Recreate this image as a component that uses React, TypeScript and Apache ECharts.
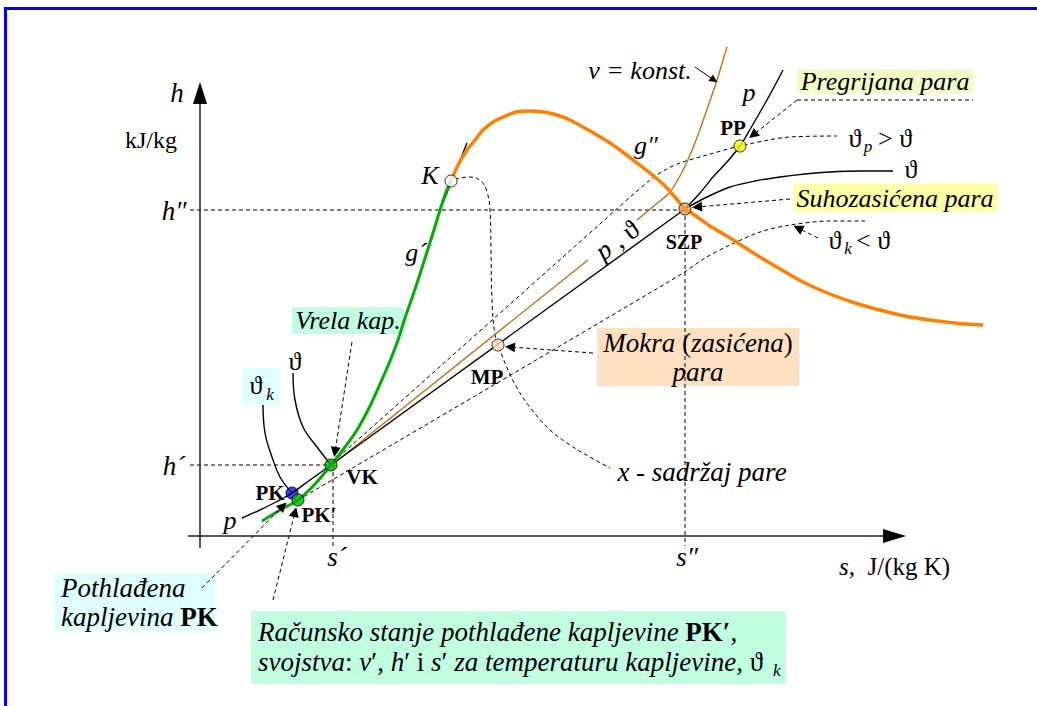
import React, { useEffect, useRef } from "react";
import * as echarts from "echarts";

// ---- Data (diagram units: s to the right, h measured downward on the inverted axis) ----
const gPrime = [[262,521],[280,510],[298,500],[315,484],[331,465],[345,447],[357,430],[369,408],[380,384],[390,361],[398,340],[405,318],[412,298],[419,277],[426,255],[433,233],[440,210],[446,192],[451,181]];
const gDouble = [[451,181],[458,165],[467,150],[475,140],[483,130],[493,122],[503,117],[516,112],[530,111],[544,112],[557,115],[570,120],[583,127],[597,135],[610,143],[624,153],[637,163],[650,173],[663,184],[674,196],[685,209],[693,214],[710,226],[730,238],[755,254],[780,269],[805,283],[830,294],[855,303],[880,310],[905,316],[930,320],[955,323],[983,325]];
const tangentK = [[440,210],[467,143]];
const wetIsobar = [[331,465],[685,209]];
const vConstLow = [[333,464],[588,260]];
const vConstHigh = [[637,220],[655,205],[670,192],[681,174],[690,155],[698,135],[705,115],[712,95],[718,77],[723,60],[727,47]];
const pLiquid = [[242,518],[260,510],[276,502],[292,493],[310,480],[331,465]];
const pSuper = [[685,209],[700,193],[713,177],[727,162],[740,146],[752,126],[763,107],[773,89],[783,70]];
const thetaSuper = [[685,209],[705,198],[730,187],[755,181],[780,177],[805,174],[830,172],[860,171],[893,171]];
const thetaLiquid = [[293,373],[295,400],[303,427],[317,447],[331,465]];
const thetaKLiquid = [[263,405],[265,433],[272,457],[280,477],[292,493]];
const xCurve = [[455,179],[470,177],[481,181],[487,192],[490,210],[491,250],[492,300],[495,335],[500,350],[508,370],[517,388],[532,410],[550,430],[567,443],[583,453],[610,468]];
const thetaPDashed = [[333,462],[600,224],[650,180],[665,170],[680,163],[707,155],[740,146],[790,137],[837,136]];
const thetaKDashed = [[298,500],[680,275],[705,258],[730,245],[760,232],[790,225],[830,221],[865,221]];
const hDoubleGuide = [[190,210],[685,210]];
const hPrimeGuide = [[190,465],[331,465]];
const sPrimeGuide = [[333,465],[333,546]];
const sDoubleGuide = [[685,209],[685,546]];
const pregrijanaUnderline = [[797,100],[973,100]];

const arrowsDashed = [
  [[352,342],[335,452]],
  [[593,353],[510,347]],
  [[797,100],[753,135]],
  [[790,199],[697,207]],
  [[818,238],[798,228]],
  [[202,588],[283,506]],
  [[273,600],[295,512]],
];
const arrowsSolid = [[[695,67],[714,80]]];

const points = [
  { name: "K", value: [451,181], color: "#ffffff" },
  { name: "SZP", value: [685,209], color: "#f8a050" },
  { name: "PP", value: [740,146], color: "#ffff00" },
  { name: "MP", value: [498,345], color: "#ffe0c0" },
  { name: "VK", value: [331,465], color: "#00b000" },
  { name: "PK", value: [292,493], color: "#1010e0" },
  { name: "PK'", value: [298,500], color: "#00b000" },
];

const FONT = "'Liberation Serif', 'Times New Roman', serif";

function lineSeries(data: number[][], color: string, width: number, opts: any = {}) {
  return {
    type: "line",
    data,
    symbol: "none",
    showSymbol: false,
    silent: true,
    smooth: opts.smooth ?? 0,
    z: opts.z ?? 3,
    lineStyle: { color, width, type: opts.type ?? "solid" },
  };
}

function t(x: number, y: number, text: string, o: any = {}) {
  return {
    type: "text",
    x,
    y,
    rotation: o.rotation ?? 0,
    z: 20,
    style: {
      text,
      fill: "#000",
      fontFamily: FONT,
      fontSize: o.size ?? 26,
      fontStyle: o.italic === false ? "normal" : "italic",
      fontWeight: o.bold ? "bold" : "normal",
      align: o.align ?? "center",
      verticalAlign: "middle",
      rich: o.rich,
    },
  };
}

function box(x: number, y: number, w: number, h: number, fill: string) {
  return { type: "rect", z: 0, shape: { x, y, width: w, height: h }, style: { fill } };
}

const richI = (size: number) => ({
  i: { fontFamily: FONT, fontSize: size, fontStyle: "italic" },
  n: { fontFamily: FONT, fontSize: size, fontStyle: "normal" },
  b: { fontFamily: FONT, fontSize: size, fontStyle: "normal", fontWeight: "bold" },
});

export default function App() {
  const ref = useRef<HTMLDivElement>(null);
  useEffect(() => {
    if (!ref.current) return;
    const chart = echarts.init(ref.current, undefined, { renderer: "svg" });
    const dash = [4, 3];
    const series: any[] = [
      lineSeries(hDoubleGuide, "#000", 1, { type: dash, z: 2 }),
      lineSeries(hPrimeGuide, "#000", 1, { type: dash, z: 2 }),
      lineSeries(sPrimeGuide, "#000", 1, { type: dash, z: 2 }),
      lineSeries(sDoubleGuide, "#000", 1, { type: dash, z: 2 }),
      lineSeries(xCurve, "#000", 1, { type: dash, z: 2, smooth: 0.4 }),
      lineSeries(thetaPDashed, "#000", 1, { type: dash, z: 2, smooth: 0.3 }),
      lineSeries(thetaKDashed, "#000", 1, { type: dash, z: 2, smooth: 0.3 }),
      lineSeries(pregrijanaUnderline, "#000", 1, { type: dash, z: 2 }),
      lineSeries(vConstLow, "#cc6600", 1.3),
      lineSeries(vConstHigh, "#cc6600", 1.3, { smooth: 0.3 }),
      lineSeries(wetIsobar, "#000", 1.4),
      lineSeries(tangentK, "#000", 1.4),
      lineSeries(pLiquid, "#000", 1.4, { smooth: 0.3 }),
      lineSeries(pSuper, "#000", 1.4, { smooth: 0.3 }),
      lineSeries(thetaSuper, "#000", 1.4, { smooth: 0.3 }),
      lineSeries(thetaLiquid, "#000", 1.4, { smooth: 0.4 }),
      lineSeries(thetaKLiquid, "#000", 1.4, { smooth: 0.4 }),
      lineSeries(gPrime, "#00b000", 3, { smooth: 0.3, z: 4 }),
      lineSeries(gDouble, "#ff8000", 3.5, { smooth: 0.3, z: 4 }),
      {
        type: "lines",
        coordinateSystem: "cartesian2d",
        silent: true,
        z: 5,
        symbol: ["none", "triangle"],
        symbolSize: 10,
        lineStyle: { color: "#000", width: 1, type: dash, opacity: 1, curveness: 0 },
        data: arrowsDashed.map((c) => ({ coords: c })),
      },
      {
        type: "lines",
        coordinateSystem: "cartesian2d",
        silent: true,
        z: 5,
        symbol: ["none", "triangle"],
        symbolSize: 8,
        lineStyle: { color: "#000", width: 1, opacity: 1, curveness: 0 },
        data: arrowsSolid.map((c) => ({ coords: c })),
      },
      {
        type: "scatter",
        silent: true,
        z: 6,
        symbolSize: 12,
        data: points.map((p) => ({
          name: p.name,
          value: p.value,
          itemStyle: { color: p.color, borderColor: "#000", borderWidth: 1 },
        })),
      },
      lineSeries([[286,497],[298,489]], "#000", 1.2, { z: 7 }),
    ];

    const graphic: any[] = [
      // frame
      box(4, 7, 1033, 3, "#0000ff"),
      box(4, 7, 3, 699, "#0000ff"),
      // label boxes
      box(242, 368, 38, 37, "#e0ffff"),
      box(292, 307, 111, 27, "#c0ffe0"),
      box(597, 328, 202, 58, "#ffe0c0"),
      box(797, 69, 176, 25, "#f2ffc4"),
      box(793, 184, 204, 28, "#ffffa8"),
      box(54, 573, 161, 58, "#e0ffff"),
      box(251, 611, 535, 73, "#c0ffe0"),
      // axes
      { type: "line", z: 8, shape: { x1: 200, y1: 548, x2: 200, y2: 100 }, style: { stroke: "#222", lineWidth: 1.5 } },
      { type: "line", z: 8, shape: { x1: 188, y1: 536, x2: 888, y2: 536 }, style: { stroke: "#222", lineWidth: 1.5 } },
      { type: "polygon", z: 8, shape: { points: [[200,82],[193,104],[207,104]] }, style: { fill: "#000" } },
      { type: "polygon", z: 8, shape: { points: [[906,536],[883,529],[883,543]] }, style: { fill: "#000" } },
      // axis labels
      t(177, 93, "h", { size: 27 }),
      t(151, 140, "kJ/kg", { size: 24, italic: false }),
      t(174, 211, "h″", { size: 27 }),
      t(174, 466, "h´", { size: 27 }),
      t(337, 557, "s´", { size: 27 }),
      t(687, 557, "s″", { size: 27 }),
      t(839, 566, "{i|s,}{n|  J/(kg K)}", { align: "left", rich: richI(25) }),
      // curve labels
      t(430, 175, "K", { size: 26 }),
      t(416, 252, "g´", { size: 26 }),
      t(646, 145, "g″", { size: 26 }),
      t(617, 240, "{i|p}{n| , ϑ}", { rotation: 0.63, rich: richI(27) }),
      t(640, 70, "v = konst.", { size: 26 }),
      t(749, 92, "p", { size: 26 }),
      t(911, 169, "ϑ", { size: 26, italic: false }),
      t(295, 361, "ϑ", { size: 26, italic: false }),
      t(230, 520, "p", { size: 26 }),
      // theta_k box
      t(256, 385, "ϑ", { size: 26, italic: false }),
      t(270, 394, "k", { size: 17 }),
      // point labels
      t(684, 242, "SZP", { size: 20, bold: true, italic: false }),
      t(733, 128, "PP", { size: 21, bold: true, italic: false }),
      t(487, 377, "MP", { size: 21, bold: true, italic: false }),
      t(362, 477, "VK", { size: 21, bold: true, italic: false }),
      t(270, 493, "PK", { size: 21, bold: true, italic: false }),
      t(319, 515, "PK′", { size: 21, bold: true, italic: false }),
      // annotations
      t(348, 320, "Vrela kap.", { size: 26 }),
      t(885, 81, "Pregrijana para", { size: 26 }),
      t(895, 198, "Suhozasićena para", { size: 26 }),
      t(698, 343, "{i|Mokra }{n|(}{i|zasićena}{n|)}", { rich: richI(27) }),
      t(698, 372, "para", { size: 27 }),
      t(702, 472, "x - sadržaj pare", { size: 27 }),
      // theta_p > theta
      t(855, 138, "ϑ", { size: 26, italic: false }),
      t(868, 146, "p", { size: 17 }),
      t(895, 138, "> ϑ", { size: 26, italic: false }),
      // theta_k < theta
      t(835, 240, "ϑ", { size: 26, italic: false }),
      t(848, 248, "k", { size: 17 }),
      t(873, 240, "< ϑ", { size: 26, italic: false }),
      // bottom boxes
      t(61, 588, "Pothlađena", { size: 27, align: "left" }),
      t(61, 617, "{i|kapljevina }{b|PK}", { align: "left", rich: richI(27) }),
      t(258, 632, "{i|Računsko stanje pothlađene kapljevine }{b|PK′}{n|,}", { align: "left", rich: richI(27) }),
      t(258, 662, "{i|svojstva}{n|: }{i|v}{n|′, }{i|h}{n|′ i }{i|s}{n|′ }{i|za temperaturu kapljevine}{n|, ϑ}", { align: "left", rich: richI(27) }),
      t(773, 670, "k", { size: 17, align: "left" }),
    ];

    chart.setOption({
      animation: false,
      grid: { left: 0, right: 0, top: 0, bottom: 0 },
      xAxis: { type: "value", min: 0, max: 1037, show: false },
      yAxis: { type: "value", min: 0, max: 706, inverse: true, show: false },
      series,
      graphic,
    });
    return () => chart.dispose();
  }, []);
  return (
    <div
      ref={ref}
      style={{ position: "fixed", left: 0, top: 0, width: 1037, height: 706, background: "#fff" }}
    />
  );
}
